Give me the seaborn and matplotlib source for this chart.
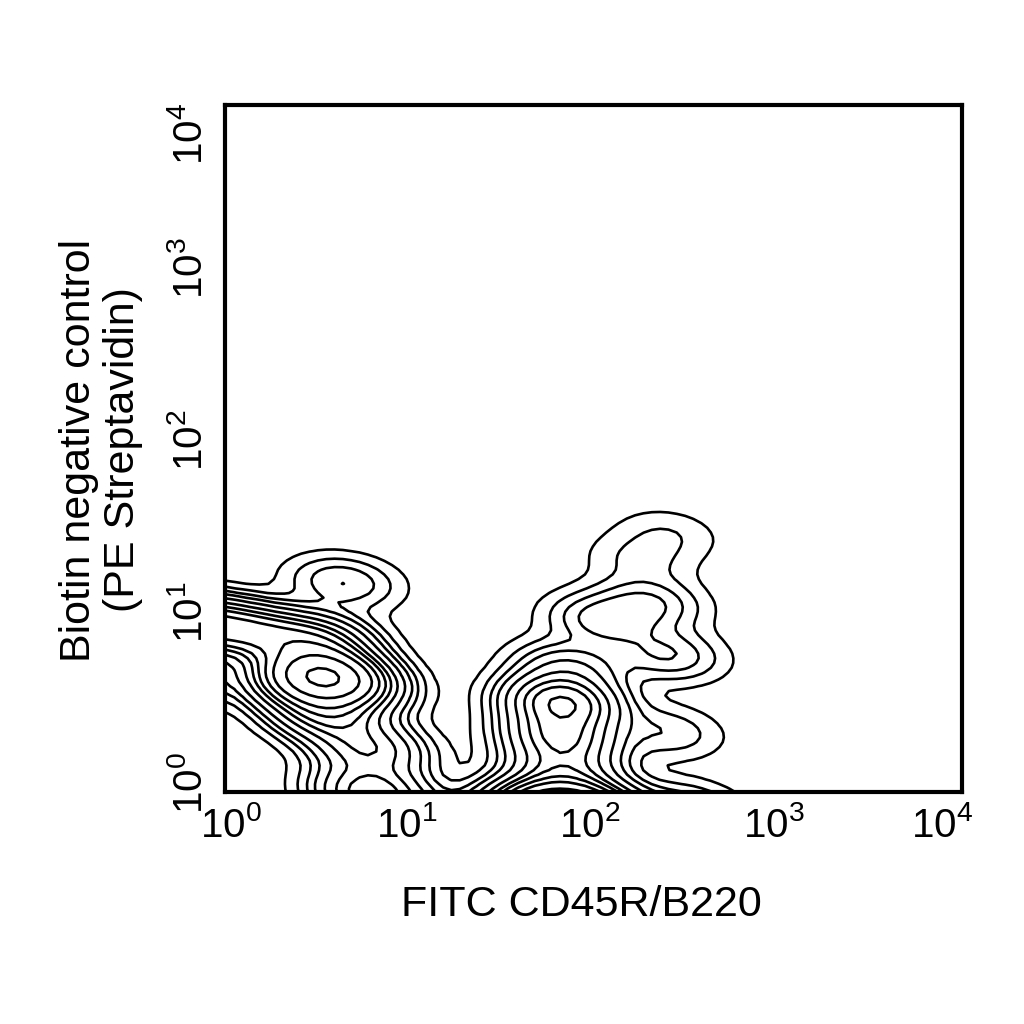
import numpy as np
import pandas as pd
import matplotlib
matplotlib.use("Agg")
import matplotlib.pyplot as plt
from matplotlib.transforms import offset_copy
import seaborn as sns

# Population anchor points (log10 decades) with relative weights
anchor_x = [0.53, 0.38, 0.68, 0.50, 0.56,             # left population core
            0.20, -0.05, -0.30, -0.35,                 # upper-left extension
            0.64,                                      # top bump
            0.78, 0.80, 0.78, 1.00,                    # ridge to the bottom
            -0.40, -0.45, 1.30,                        # corner debris, bottom link
            1.85, 1.65, 2.05,                          # right population, below axis
            1.83, 1.82, 1.84, 1.87,                    # right population core
            2.05, 2.30, 2.25, 2.40, 2.40, 2.40, 2.50]  # shoulder
anchor_y = [0.68, 0.62, 0.62, 0.88, 0.45,
            0.92, 0.97, 1.00, 0.70,
            1.22,
            0.25, 0.00, -0.30, -0.20,
            -0.35, 0.25, -0.15,
            -0.12, -0.10, -0.10,
            0.52, 0.32, 0.12, 0.72,
            1.00, 1.10, 1.35, 1.50, 0.80, 0.35, -0.10]
anchor_w = [14, 3, 3, 4, 4,
            4, 4, 4, 3,
            1.0,
            3, 4, 6, 1.5,
            12, 2.5, 0.6,
            22, 3, 3,
            5.5, 4, 3, 1.5,
            1.2, 1.0, 0.4, 0.35, 1.0, 0.6, 1]

contour_levels = [0.01, 0.03, 0.06, 0.10, 0.16, 0.24, 0.33, 0.43, 0.54, 0.66, 0.78, 0.90, 0.96]

tick_pos = [0, 1, 2, 3, 4]
tick_text = [r'$10^{%d}$' % p for p in tick_pos]
x_label = 'FITC CD45R/B220'
y_label = 'Biotin negative control\n(PE Streptavidin)'

# label nudges in pixels (layout only)
x_tick_dx = [6, -3, -4, -4, -20]
y_tick_dy = [9, 8, 8.5, 9, -29]

sns.set_style('white')
plt.rcParams['font.family'] = ['Liberation Sans', 'DejaVu Sans']
plt.rcParams['mathtext.default'] = 'regular'
for k in ['text.color', 'axes.labelcolor', 'xtick.color', 'ytick.color']:
    plt.rcParams[k] = 'black'

fig = plt.figure(figsize=(10.24, 10.24), dpi=100)
ax = fig.add_axes([225/1024, 1 - 792/1024, 737/1024, 687/1024])

df = pd.DataFrame({'x': anchor_x, 'y': anchor_y, 'w': anchor_w})
sns.kdeplot(data=df, x='x', y='y', weights='w', levels=contour_levels,
            bw_method=0.2, color='black', linewidths=1.9, gridsize=100, cut=4, ax=ax)

ax.set_xlim(0, 4)
ax.set_ylim(0, 4)
ax.set_xticks(tick_pos)
ax.set_yticks(tick_pos)
ax.set_xticklabels([])
ax.set_yticklabels([])
ax.tick_params(length=0)
ax.set_xlabel('')
ax.set_ylabel('')

xt = ax.get_xaxis_transform()
for p, t, dx in zip(tick_pos, tick_text, x_tick_dx):
    ax.text(p, 0, t, fontsize=29, ha='center', va='top',
            transform=offset_copy(xt, fig=fig, x=dx, y=-14, units='dots'))
yt = ax.get_yaxis_transform()
for p, t, dy in zip(tick_pos, tick_text, y_tick_dy):
    ax.text(0, p, t, fontsize=29, ha='right', va='center', rotation=90,
            transform=offset_copy(yt, fig=fig, x=-15, y=dy, units='dots'))

fig.text(581.5/1024, 1 - 905/1024, x_label, fontsize=31, ha='center', va='center')
fig.text(101/1024, 1 - 450/1024, y_label, fontsize=31, ha='center', va='center',
         rotation=90, linespacing=1.1, multialignment='center')

for s in ax.spines.values():
    s.set_visible(True)
    s.set_linewidth(3)
    s.set_color('black')

fig.savefig('out.png', dpi=100, facecolor='white')
